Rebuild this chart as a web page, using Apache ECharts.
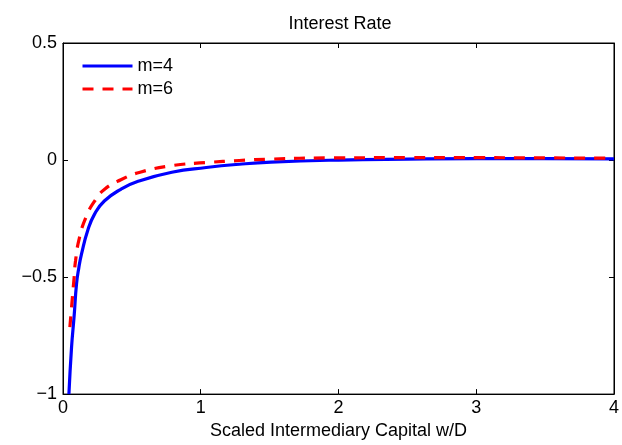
<!DOCTYPE html>
<html>
<head>
<meta charset="utf-8">
<script src="https://cdn.jsdelivr.net/npm/echarts@6/dist/echarts.min.js"></script>
<style>html,body{margin:0;padding:0;background:#fff}#c{width:622px;height:445px}</style>
</head>
<body>
<div id="c"></div>
<script>
const titleText = 'Interest Rate';
const xAxisName = 'Scaled Intermediary Capital w/D';
const seriesNames = ['m=4', 'm=6'];
const xTicks = [0, 1, 2, 3, 4];
const yTicks = [-1, -0.5, 0, 0.5];

const xM4 = [0.043, 0.062, 0.081, 0.098, 0.115, 0.135, 0.18, 0.23, 0.30, 0.42, 0.55, 0.79, 1.04, 1.28, 1.51, 2.0, 2.5, 3.0, 3.5, 4.0];
const yM4 = [-1.0, -0.80, -0.665, -0.53, -0.46, -0.40, -0.30, -0.23, -0.175, -0.125, -0.09, -0.052, -0.032, -0.018, -0.009, 0.0, 0.004, 0.006, 0.006, 0.005];

const xM6 = [0.05, 0.067, 0.081, 0.091, 0.12, 0.17, 0.23, 0.30, 0.42, 0.56, 0.79, 1.04, 1.28, 1.51, 1.92, 2.5, 3.0, 3.5, 4.0];
const yM6 = [-0.714, -0.595, -0.50, -0.43, -0.33, -0.24, -0.175, -0.126, -0.084, -0.052, -0.024, -0.011, -0.002, 0.004, 0.009, 0.01, 0.01, 0.009, 0.008];

const FONT = '"Liberation Sans", Arial, Helvetica, sans-serif';
const fmtY = v => v < 0 ? '\u2212' + Math.abs(v) : String(v);

const chart = echarts.init(document.getElementById('c'), null, {renderer: 'canvas'});
const axisCommon = {
  axisLine: {show: true, onZero: false, lineStyle: {color: '#000', width: 1}},
  axisTick: {show: true, inside: true, length: 5, lineStyle: {color: '#000'}},
  splitLine: {show: false}
};
chart.setOption({
  animation: false,
  backgroundColor: '#fff',
  title: {
    text: titleText, left: 335, top: 10, textAlign: 'center',
    textStyle: {fontFamily: FONT, fontSize: 18, fontWeight: 'normal', color: '#000'}
  },
  legend: {
    orient: 'vertical', left: 76, top: 52, itemWidth: 50, itemHeight: 14, itemGap: 5,
    itemStyle: {opacity: 0},
    lineStyle: {width: 3},
    textStyle: {fontFamily: FONT, fontSize: 18, color: '#000'},
    data: seriesNames
  },
  grid: {left: 63, right: 4, top: 43, bottom: 46, show: true, borderColor: '#000', borderWidth: 1, containLabel: false},
  xAxis: [
    Object.assign({
      type: 'value', min: xTicks[0], max: xTicks[xTicks.length - 1], interval: 1, position: 'bottom',
      name: xAxisName, nameLocation: 'middle', nameGap: 27,
      nameTextStyle: {fontFamily: FONT, fontSize: 18, color: '#000'},
      axisLabel: {fontFamily: FONT, fontSize: 18, color: '#000', margin: 5}
    }, axisCommon),
    Object.assign({
      type: 'value', min: xTicks[0], max: xTicks[xTicks.length - 1], interval: 1, position: 'top',
      axisLabel: {show: false}
    }, axisCommon)
  ],
  yAxis: [
    Object.assign({
      type: 'value', min: yTicks[0], max: yTicks[yTicks.length - 1], interval: 0.5, position: 'left',
      axisLabel: {fontFamily: FONT, fontSize: 18, color: '#000', margin: 6, formatter: fmtY}
    }, axisCommon),
    Object.assign({
      type: 'value', min: yTicks[0], max: yTicks[yTicks.length - 1], interval: 0.5, position: 'right',
      axisLabel: {show: false}
    }, axisCommon)
  ],
  series: [
    {
      name: seriesNames[0], type: 'line', xAxisIndex: 0, yAxisIndex: 0,
      data: xM4.map((x, i) => [x, yM4[i]]),
      symbol: 'none', smooth: 0.5, clip: true,
      lineStyle: {color: '#0000ff', width: 3.2}, itemStyle: {color: '#0000ff'}
    },
    {
      name: seriesNames[1], type: 'line', xAxisIndex: 0, yAxisIndex: 0,
      data: xM6.map((x, i) => [x, yM6[i]]),
      symbol: 'none', smooth: 0.5, clip: true,
      lineStyle: {color: '#ff0000', width: 3.2, type: [11, 9]}, itemStyle: {color: '#ff0000'}
    }
  ]
});
</script>
</body>
</html>
